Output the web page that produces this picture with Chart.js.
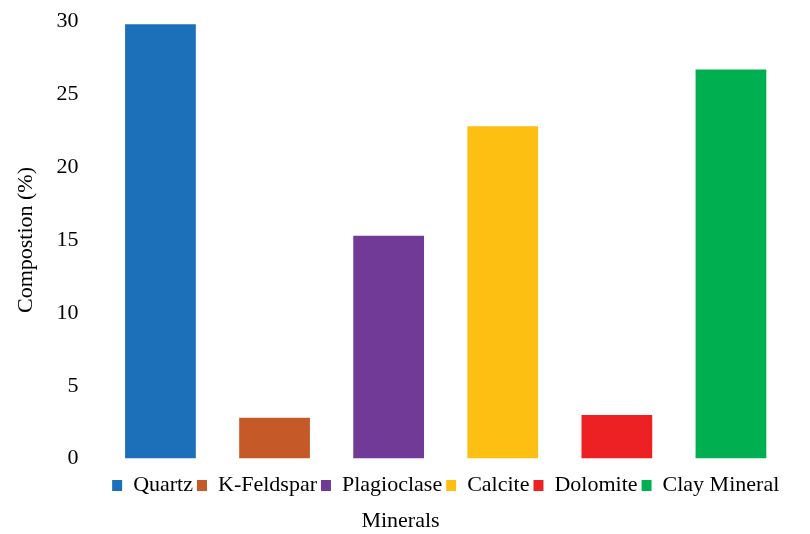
<!DOCTYPE html>
<html>
<head>
<meta charset="utf-8">
<script src="https://cdn.jsdelivr.net/npm/chart.js@4/dist/chart.umd.min.js"></script>
<style>
  body { margin: 0; background: #fff; }
</style>
</head>
<body>
<canvas id="minerals" width="810" height="534"></canvas>
<script>
// mineral composition of the sample
const minerals = ['Quartz', 'K-Feldspar', 'Plagioclase', 'Calcite', 'Dolomite', 'Clay Mineral'];
const composition = [29.8, 2.8, 15.3, 22.8, 3.0, 26.7];
const barColors = ['#1c70b9', '#c55a28', '#703a96', '#fdbf12', '#ed2024', '#00b050'];
const yTicks = [0, 5, 10, 15, 20, 25, 30];

const serif = '"Liberation Serif", "Times New Roman", serif';

new Chart(document.getElementById('minerals'), {
    type: 'bar',
    data: {
        labels: minerals,
        datasets: [{
            label: 'Compostion (%)',
            data: composition,
            backgroundColor: barColors,
            borderWidth: 0,
            categoryPercentage: 1,
            barPercentage: 0.62
        }]
    },
    options: {
        responsive: false,
        animation: false,
        layout: { padding: { top: 0, right: 22, left: 13, bottom: 0 } },
        plugins: {
            tooltip: { enabled: false },
            legend: {
                position: 'bottom',
                fullSize: false,
                labels: {
                    color: '#000',
                    font: { family: serif, size: 22 },
                    boxWidth: 10,
                    boxHeight: 11,
                    padding: 4,
                    // one legend entry per bar
                    generateLabels(chart) {
                        const ds = chart.data.datasets[0];
                        return chart.data.labels.map((name, i) => ({
                            text: name,
                            fillStyle: ds.backgroundColor[i],
                            strokeStyle: ds.backgroundColor[i],
                            lineWidth: 0,
                            fontColor: '#000',
                            index: i
                        }));
                    }
                }
            },
            title: {
                display: true,
                position: 'bottom',
                text: 'Minerals',
                color: '#000',
                font: { family: serif, size: 22, weight: 'normal' },
                padding: { top: 1, bottom: 0 }
            }
        },
        scales: {
            x: {
                grid: { display: false },
                border: { display: false },
                ticks: { display: false },
                // a little room between the bars and the legend row
                afterFit(axis) {
                    axis.height += 4;
                }
            },
            y: {
                min: 0,
                max: 30,
                afterBuildTicks(axis) {
                    axis.ticks = yTicks.map(v => ({ value: v }));
                },
                grid: { display: false },
                border: { display: false },
                ticks: {
                    color: '#000',
                    padding: 17,
                    font: { family: serif, size: 22, lineHeight: 0.4 }
                },
                title: {
                    display: true,
                    text: 'Compostion (%)',
                    color: '#000',
                    font: { family: serif, size: 22 },
                    padding: { top: 0, bottom: 0 }
                }
            }
        }
    }
});
</script>
</body>
</html>
